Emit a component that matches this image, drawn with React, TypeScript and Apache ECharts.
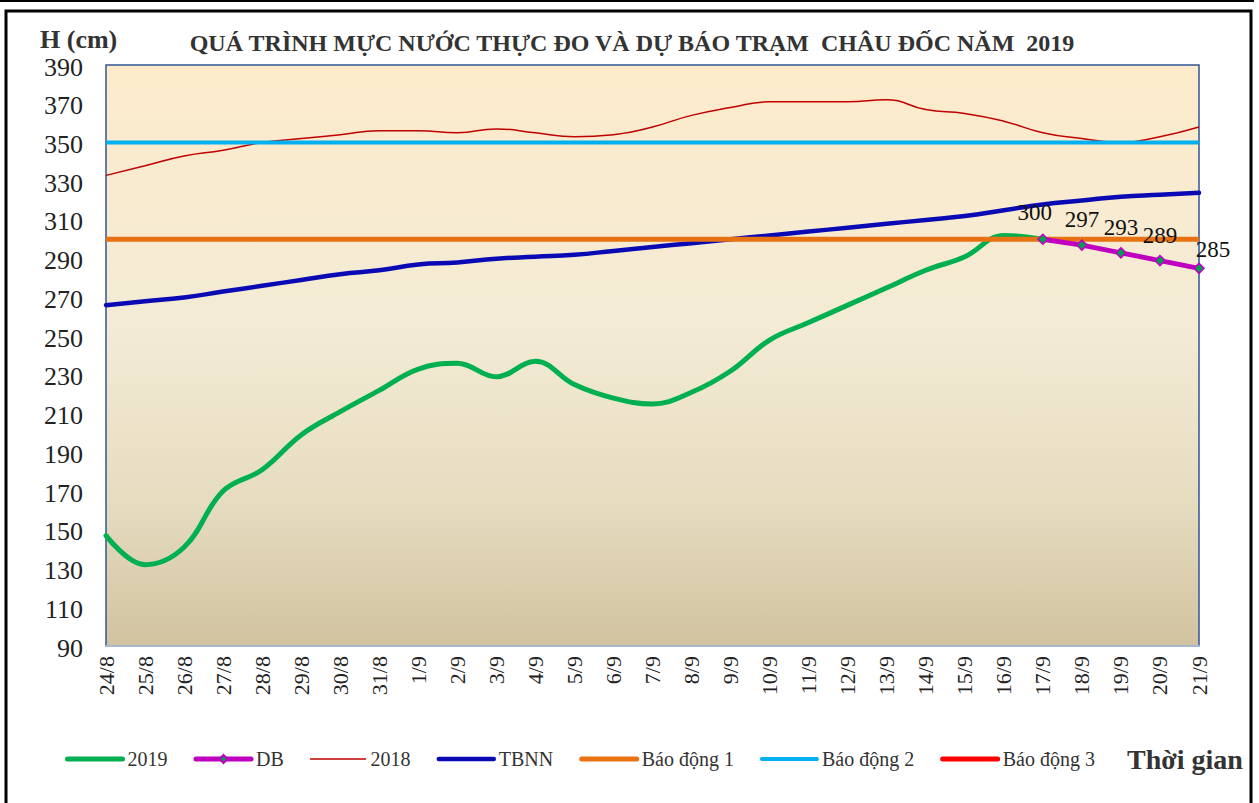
import React, { useEffect, useRef } from 'react';
import * as echarts from 'echarts';

const dates = ['24/8', '25/8', '26/8', '27/8', '28/8', '29/8', '30/8', '31/8', '1/9', '2/9', '3/9', '4/9', '5/9', '6/9', '7/9', '8/9', '9/9', '10/9', '11/9', '12/9', '13/9', '14/9', '15/9', '16/9', '17/9', '18/9', '19/9', '20/9', '21/9'];
const yTickLabels = ['90', '110', '130', '150', '170', '190', '210', '230', '250', '270', '290', '310', '330', '350', '370', '390'];
const h2019 = [147, 132, 141, 170, 181, 199, 211, 222, 233, 236, 229, 237, 225, 218, 215, 221, 232, 248, 257, 266, 275, 284, 291, 302, 300];
const dbStartDate = '17/9';
const dbForecast = [300, 297, 293, 289, 285];
const h2018 = [333, 338, 343, 346, 350, 352, 354, 356, 356, 355, 357, 355, 353, 354, 358, 364, 368, 371, 371, 371, 372, 367, 365, 361, 355, 352, 350, 353, 358];
const tbnn = [266, 268, 270, 273, 276, 279, 282, 284, 287, 288, 290, 291, 292, 294, 296, 298, 300, 302, 304, 306, 308, 310, 312, 315, 318, 320, 322, 323, 324];
const alarm1 = 300;
const alarm2 = 350;
const alarm3 = 400;

const SERIF = 'Liberation Serif';

export default function App() {
  const ref = useRef<HTMLDivElement>(null);
  useEffect(() => {
    if (!ref.current) return;
    const chart = echarts.init(ref.current, null, { renderer: 'svg' });
    const dbStart = dates.indexOf(dbStartDate);
    const dbLabelOffsets: Record<number, number[]> = { 0: [-8, -2], 4: [14, 6] };
    const dbData = dates.map((_, i) => {
      const k = i - dbStart;
      if (k < 0 || k >= dbForecast.length) return null;
      const off = dbLabelOffsets[k];
      return off ? { value: dbForecast[k], label: { offset: off } } : dbForecast[k];
    });
    const level = (v: number) => dates.map(() => v);
    const hideSym = { opacity: 0 };
    chart.setOption({
      animation: false,
      backgroundColor: '#ffffff',
      textStyle: { fontFamily: SERIF },
      grid: [
        {
          left: 106,
          right: 60,
          top: 65,
          bottom: 157,
          show: true,
          borderColor: '#2F5597',
          borderWidth: 1.5,
          backgroundColor: new echarts.graphic.LinearGradient(0, 0, 0, 1, [
            { offset: 0, color: '#FDEBCB' },
            { offset: 0.45, color: '#F3EBD5' },
            { offset: 0.75, color: '#E6DCC0' },
            { offset: 1, color: '#D1C3A0' },
          ]),
        },
        { left: 106, right: 60, top: 67, bottom: 155, show: false },
      ],
      xAxis: [
        {
          type: 'category',
          gridIndex: 0,
          data: dates,
          boundaryGap: false,
          axisLine: { show: true, lineStyle: { color: '#A9B8CF', width: 2 } },
          axisTick: { show: false },
          splitLine: { show: false },
          axisLabel: { rotate: 90, margin: 10, fontSize: 22, color: '#222', fontFamily: SERIF },
        },
        { type: 'category', gridIndex: 1, data: dates, show: false },
      ],
      yAxis: [
        {
          type: 'value',
          gridIndex: 0,
          min: 90,
          max: 390,
          axisLabel: { show: false },
          axisLine: { show: false },
          axisTick: { show: false },
          splitLine: { show: false },
        },
        {
          type: 'category',
          gridIndex: 1,
          data: yTickLabels,
          boundaryGap: false,
          position: 'left',
          axisLine: { show: false },
          axisTick: { show: false },
          splitLine: { show: false },
          axisLabel: { margin: 23, fontSize: 26, color: '#222', fontFamily: SERIF },
        },
      ],
      legend: {
        left: 60,
        top: 744,
        itemWidth: 55,
        itemHeight: 10,
        itemGap: 26,
        textStyle: { fontSize: 20, color: '#333', fontFamily: SERIF },
        lineStyle: { width: 'inherit', cap: 'round' },
        data: [
          { name: '2019', itemStyle: hideSym },
          { name: 'DB' },
          { name: '2018', itemStyle: hideSym },
          { name: 'TBNN', itemStyle: hideSym },
          { name: 'Báo động 1', itemStyle: hideSym },
          { name: 'Báo động 2', itemStyle: hideSym },
          { name: 'Báo động 3', itemStyle: hideSym },
        ],
      },
      graphic: [
        { type: 'line', shape: { x1: 0, y1: 1, x2: 1254, y2: 1 }, style: { stroke: '#000', lineWidth: 2 } },
        { type: 'rect', shape: { x: 6, y: 11, width: 1245, height: 820 }, style: { fill: 'none', stroke: '#000', lineWidth: 3 } },
        { type: 'text', x: 40, y: 39, style: { text: 'H (cm)', font: `bold 26px ${SERIF}`, fill: '#333', textVerticalAlign: 'middle' } },
        { type: 'text', x: 632, y: 43, style: { text: 'QUÁ TRÌNH MỰC NƯỚC THỰC ĐO VÀ DỰ BÁO TRẠM  CHÂU ĐỐC NĂM  2019', font: `bold 24px ${SERIF}`, fill: '#333', textAlign: 'center', textVerticalAlign: 'middle' } },
        { type: 'text', x: 1127, y: 759, style: { text: 'Thời gian', font: `bold 28px ${SERIF}`, fill: '#333', textVerticalAlign: 'middle' } },
      ],
      series: [
        {
          name: '2018', type: 'line', data: h2018, smooth: true, symbol: 'none', z: 2,
          lineStyle: { color: '#C00000', width: 1.5 }, itemStyle: { color: '#C00000' },
        },
        {
          name: 'TBNN', type: 'line', data: tbnn, smooth: true, symbol: 'none', z: 3,
          lineStyle: { color: '#0A0AB4', width: 4.5, cap: 'round' }, itemStyle: { color: '#0A0AB4' },
        },
        {
          name: '2019', type: 'line', data: h2019, smooth: 0.4, symbol: 'none', z: 4,
          lineStyle: { color: '#00B050', width: 5, cap: 'round' }, itemStyle: { color: '#00B050' },
        },
        {
          name: 'Báo động 1', type: 'line', data: level(alarm1), symbol: 'none', z: 5,
          lineStyle: { color: '#E87212', width: 5 }, itemStyle: { color: '#E87212' },
        },
        {
          name: 'Báo động 2', type: 'line', data: level(alarm2), symbol: 'none', z: 5,
          lineStyle: { color: '#00B0F0', width: 4 }, itemStyle: { color: '#00B0F0' },
        },
        {
          name: 'Báo động 3', type: 'line', data: level(alarm3), symbol: 'none', z: 5,
          lineStyle: { color: '#FF0000', width: 5 }, itemStyle: { color: '#FF0000' },
        },
        {
          name: 'DB', type: 'line', data: dbData, smooth: false, symbol: 'diamond', symbolSize: 10, z: 6,
          lineStyle: { color: '#C000C0', width: 5, cap: 'round' },
          itemStyle: { color: '#00A050', borderColor: '#C000C0', borderWidth: 1.5 },
          label: { show: true, position: 'top', distance: 8, fontSize: 23, color: '#111', fontFamily: SERIF },
        },
      ],
    });
    return () => chart.dispose();
  }, []);
  return <div ref={ref} style={{ position: 'fixed', left: 0, top: 0, width: 1259, height: 803 }} />;
}
